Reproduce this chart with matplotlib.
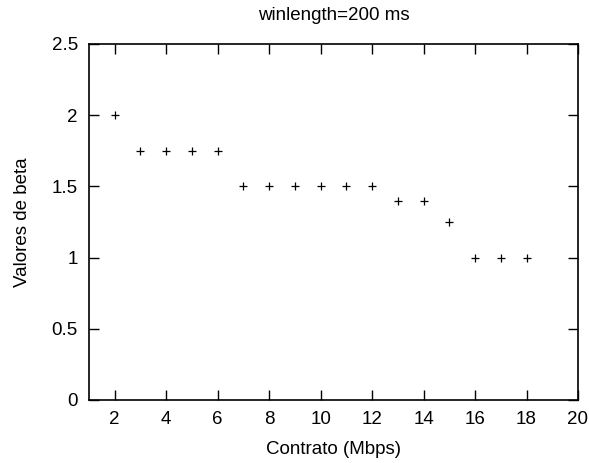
import matplotlib
matplotlib.use("Agg")
import matplotlib.pyplot as plt

contrato = [2, 3, 4, 5, 6, 7, 8, 9, 10, 11, 12, 13, 14, 15, 16, 17, 18]
beta = [2, 1.75, 1.75, 1.75, 1.75, 1.5, 1.5, 1.5, 1.5, 1.5, 1.5, 1.4, 1.4, 1.25, 1, 1, 1]
xticks = [2, 4, 6, 8, 10, 12, 14, 16, 18, 20]
yticks = [0, 0.5, 1, 1.5, 2, 2.5]
ytick_labels = ["0", "0.5", "1", "1.5", "2", "2.5"]

plt.rcParams['font.family'] = ['Liberation Sans', 'DejaVu Sans']
fig = plt.figure(figsize=(5.89, 4.63), dpi=100)
ax = fig.add_axes([89/589, 1 - 400/463, (578-89)/589, (400-44)/463])
ax.plot(contrato, beta, linestyle='none', marker='+', color='black', markersize=5.5, markeredgewidth=0.9)
ax.set_xlim(1, 20)
ax.set_ylim(0, 2.5)
ax.set_xticks(xticks)
ax.set_xticklabels([str(t) for t in xticks])
ax.set_yticks(yticks)
ax.set_yticklabels(ytick_labels)
ax.tick_params(direction='in', length=7, width=1, top=True, right=True, labelsize=13.5, pad=8)
for s in ax.spines.values():
    s.set_linewidth(1.2)
ax.set_xlabel("Contrato (Mbps)", fontsize=13.5, labelpad=9)
ax.set_ylabel("Valores de beta", fontsize=13.5, labelpad=15)
ax.set_title("winlength=200 ms", fontsize=13.5, pad=17)
fig.savefig("out.png", dpi=100)
